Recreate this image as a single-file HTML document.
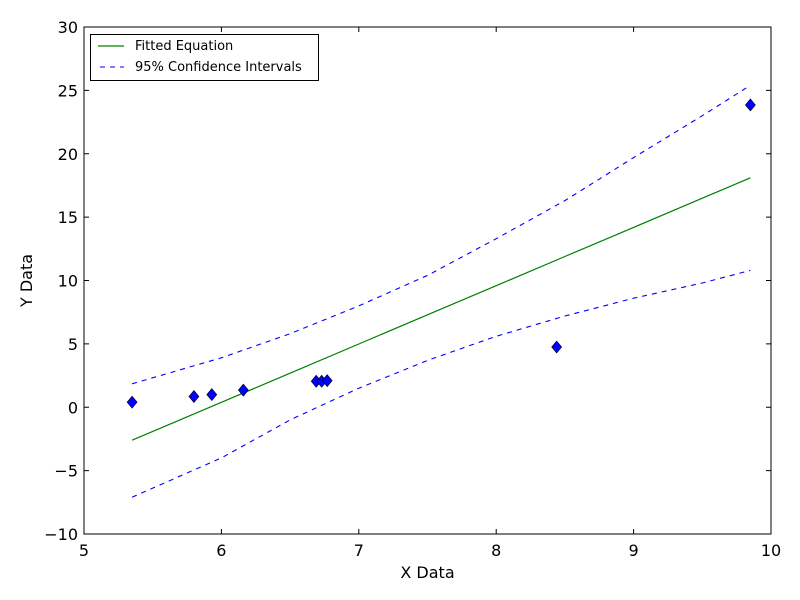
<!DOCTYPE html>
<html><head><meta charset="utf-8"><style>
body{margin:0;background:#fff;}
svg{display:block;font-family:"DejaVu Sans","Liberation Sans",sans-serif;}
</style></head><body>
<svg id="chart" width="800" height="600">
<rect x="0" y="0" width="800" height="600" fill="#fff"/>
<g id="plot"></g>
</svg>
<script>
const xTicks=[5,6,7,8,9,10];
const yTicks=[-10,-5,0,5,10,15,20,25,30];
const yTickLabels=["\u221210","\u22125","0","5","10","15","20","25","30"];
const dataX=[5.35,5.8,5.93,6.16,6.69,6.73,6.77,8.44,9.85];
const dataY=[0.4,0.85,1.0,1.35,2.05,2.05,2.1,4.75,23.85];
const curveX=[5.35,6,6.5,7,7.5,8,8.5,9,9.5,9.85];
const fitY=[-2.6,0.39,2.69,4.99,7.29,9.59,11.89,14.19,16.49,18.1];
const upperY=[1.85,3.9,5.8,8.0,10.4,13.3,16.3,19.7,23.0,25.4];
const lowerY=[-7.1,-4.0,-1.0,1.5,3.7,5.6,7.2,8.6,9.8,10.8];
const L=84,R=771,T=27,B=534;
const sx=v=>L+(v-5)/(10-5)*(R-L);
const sy=v=>B-(v+10)/(30+10)*(B-T);
const NS="http://www.w3.org/2000/svg";
const g=document.getElementById('plot');
function mk(t,a){const e=document.createElementNS(NS,t);for(const k in a)e.setAttribute(k,a[k]);g.appendChild(e);return e;}
function path(xs,ys){return xs.map((x,i)=>(i?'L':'M')+sx(x).toFixed(1)+','+sy(ys[i]).toFixed(1)).join(' ');}
let e;
e=mk('path',{d:path(curveX,fitY),stroke:'#008000',fill:'none','stroke-width':1.2});


e=mk('path',{d:path(curveX,upperY),stroke:'#0000ff',fill:'none','stroke-width':1.1,'stroke-dasharray':'5,5'});


e=mk('path',{d:path(curveX,lowerY),stroke:'#0000ff',fill:'none','stroke-width':1.1,'stroke-dasharray':'5,5'});


dataX.forEach((x,i)=>{const cx=sx(x),cy=sy(dataY[i]);
 e=mk('path',{d:`M${cx},${cy-6} L${cx+5},${cy} L${cx},${cy+6} L${cx-5},${cy} Z`,fill:'#0000ff',stroke:'#000','stroke-width':0.6});
 
 });
e=mk('rect',{x:L,y:T,width:R-L,height:B-T,fill:'none',stroke:'#000','stroke-width':1});


xTicks.forEach(v=>{const x=sx(v);
 mk('line',{x1:x,y1:B,x2:x,y2:B-5,stroke:'#000'});mk('line',{x1:x,y1:T,x2:x,y2:T+5,stroke:'#000'});
 e=mk('text',{x:x,y:B+22,'text-anchor':'middle','font-size':16});e.textContent=v;
 
 });
yTicks.forEach((v,i)=>{const y=sy(v);
 mk('line',{x1:L,y1:y,x2:L+5,y2:y,stroke:'#000'});mk('line',{x1:R,y1:y,x2:R-5,y2:y,stroke:'#000'});
 e=mk('text',{x:L-6,y:y+6,'text-anchor':'end','font-size':16});e.textContent=yTickLabels[i];
 
 });
e=mk('text',{x:(L+R)/2,y:578,'text-anchor':'middle','font-size':16});e.textContent='X Data';


e=mk('text',{x:32,y:(T+B)/2,'text-anchor':'middle','font-size':16,transform:`rotate(-90 32 ${(T+B)/2})`});e.textContent='Y Data';


e=mk('rect',{x:90.5,y:34.5,width:228,height:46,fill:'#fff',stroke:'#000'});


mk('line',{x1:98,y1:46,x2:124,y2:46,stroke:'#008000','stroke-width':1.2});
e=mk('text',{x:135,y:50,'font-size':13});e.textContent='Fitted Equation';


mk('line',{x1:98,y1:67,x2:124,y2:67,stroke:'#0000ff','stroke-width':1.1,'stroke-dasharray':'5,5','stroke-dashoffset':-2});
e=mk('text',{x:135,y:71,'font-size':13});e.textContent='95% Confidence Intervals';


</script>
</body></html>
